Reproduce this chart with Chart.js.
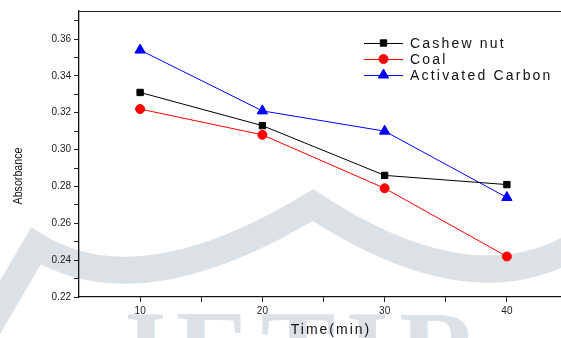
<!DOCTYPE html>
<html>
<head>
<meta charset="utf-8">
<script src="https://cdn.jsdelivr.net/npm/chart.js@4.4.0/dist/chart.umd.min.js"></script>
<style>
    html, body { margin: 0; padding: 0; background: #fff; overflow: hidden; }
    #wrap { width: 575px; height: 338px; position: relative; }
</style>
</head>
<body>
<div id="wrap"><canvas id="absChart"></canvas></div>
<script>
// данные
const times = [10, 20, 30, 40];
const cashewNut = [0.331, 0.313, 0.286, 0.281];
const coal = [0.322, 0.308, 0.279, 0.242];
const activatedCarbon = [0.354, 0.321, 0.310, 0.274];

const seriesNames = ['Cashew nut', 'Coal', 'Activated Carbon'];

const xMajorTicks = [10, 20, 30, 40];
const xMinorTicks = [15, 25, 35];
const yMajorTicks = [0.22, 0.24, 0.26, 0.28, 0.30, 0.32, 0.34, 0.36];
const yMinorTicks = [0.23, 0.25, 0.27, 0.29, 0.31, 0.33, 0.35, 0.37];

const xTitle = 'Time(min)';
const yTitle = 'Absorbance';

function toPoints(values) {
    return values.map((v, i) => ({ x: times[i], y: v }));
}

// бледный водяной знак на фоне
const watermarkPlugin = {
    id: 'watermark',
    beforeDraw(chart) {
        const ctx = chart.ctx;
        ctx.save();
        ctx.strokeStyle = '#dbe1e4';
        ctx.lineWidth = 27;
        ctx.lineJoin = 'miter';
        ctx.beginPath();
        ctx.moveTo(-25, 350);
        ctx.lineTo(36, 246);
        ctx.quadraticCurveTo(140, 310, 313, 205);
        ctx.quadraticCurveTo(480, 315, 590, 236);
        ctx.stroke();

        ctx.fillStyle = '#dbe1e4';
        ctx.font = 'bold 112px "Liberation Serif"';
        ctx.letterSpacing = '10px';
        ctx.textAlign = 'center';
        ctx.textBaseline = 'alphabetic';
        ctx.fillText('JETIR', 300, 388);
        ctx.restore();
    }
};

// рамка сверху, подписи осей и легенда
const decorPlugin = {
    id: 'decor',
    afterDraw(chart) {
        const ctx = chart.ctx;
        const area = chart.chartArea;
        ctx.save();
        ctx.strokeStyle = '#222';
        ctx.lineWidth = 1;
        ctx.beginPath();
        ctx.moveTo(area.left, area.top + 0.5);
        ctx.lineTo(area.right + 10, area.top + 0.5);
        ctx.stroke();

        ctx.fillStyle = '#111';
        ctx.textAlign = 'center';
        ctx.textBaseline = 'middle';
        ctx.font = '14px "Liberation Sans"';
        ctx.letterSpacing = '2px';
        ctx.fillText(xTitle, 331, 330);

        ctx.save();
        ctx.translate(18, 176);
        ctx.rotate(-Math.PI / 2);
        ctx.font = '13px "Liberation Sans"';
        ctx.letterSpacing = '0px';
        ctx.scale(0.82, 1);
        ctx.fillText(yTitle, 0, 0);
        ctx.restore();

        // легенда
        const x0 = 364, x1 = 403, rowStart = 43, rowGap = 15.8;
        chart.data.datasets.forEach((ds, i) => {
            const y = Math.round(rowStart + i * rowGap);
            ctx.strokeStyle = ds.borderColor;
            ctx.lineWidth = 1;
            ctx.beginPath();
            ctx.moveTo(x0, y + 0.5);
            ctx.lineTo(x1, y + 0.5);
            ctx.stroke();
            ctx.fillStyle = ds.pointBackgroundColor;
            ctx.strokeStyle = ds.pointBorderColor;
            Chart.helpers.drawPoint(ctx, {
                pointStyle: ds.pointStyle,
                radius: ds.pointRadius,
                borderWidth: 1
            }, (x0 + x1) / 2, y);
            ctx.fillStyle = '#111';
            ctx.textAlign = 'left';
            ctx.font = '14px "Liberation Sans"';
            ctx.letterSpacing = '2.2px';
            ctx.fillText(ds.label, 410, y + 1);
        });
        ctx.restore();
    }
};

const ctx = document.getElementById('absChart').getContext('2d');

new Chart(ctx, {
    type: 'line',
    data: {
        datasets: [
            {
                label: seriesNames[0],
                data: toPoints(cashewNut),
                borderColor: '#000000',
                backgroundColor: '#000000',
                pointBackgroundColor: '#000000',
                pointBorderColor: '#000000',
                pointStyle: 'rect',
                pointRadius: 4.5,
                borderWidth: 1
            },
            {
                label: seriesNames[1],
                data: toPoints(coal),
                borderColor: '#ff0000',
                backgroundColor: '#ff0000',
                pointBackgroundColor: '#ff0000',
                pointBorderColor: '#ff0000',
                pointStyle: 'circle',
                pointRadius: 4.5,
                borderWidth: 1
            },
            {
                label: seriesNames[2],
                data: toPoints(activatedCarbon),
                borderColor: '#0000ff',
                backgroundColor: '#0000ff',
                pointBackgroundColor: '#0000ff',
                pointBorderColor: '#0000ff',
                pointStyle: 'triangle',
                pointRadius: 6,
                borderWidth: 1
            }
        ]
    },
    options: {
        responsive: true,
        maintainAspectRatio: false,
        animation: false,
        layout: { padding: { top: 11, right: 4, left: 0, bottom: 0 } },
        scales: {
            x: {
                type: 'linear',
                min: 5,
                max: 45,
                afterBuildTicks: scale => {
                    scale.ticks = xMajorTicks.concat(xMinorTicks).sort((a, b) => a - b).map(v => ({ value: v }));
                },
                afterFit: scale => { scale.height = 41; },
                ticks: {
                    autoSkip: false,
                    maxRotation: 0,
                    padding: 3,
                    color: '#222',
                    font: { family: 'Liberation Sans', size: 10 },
                    callback: v => xMajorTicks.includes(v) ? String(v) : ''
                },
                grid: { drawOnChartArea: false, drawTicks: true, tickLength: 5, color: '#222' },
                border: { display: true, color: '#111', width: 1.3 }
            },
            y: {
                type: 'linear',
                min: 0.22,
                max: 0.3752,
                afterBuildTicks: scale => {
                    scale.ticks = yMajorTicks.concat(yMinorTicks).sort((a, b) => a - b).map(v => ({ value: v }));
                },
                afterFit: scale => { scale.width = 79; },
                ticks: {
                    autoSkip: false,
                    padding: 3,
                    color: '#222',
                    font: { family: 'Liberation Sans', size: 10 },
                    callback: v => {
                        const major = yMajorTicks.find(t => Math.abs(t - v) < 1e-6);
                        return major !== undefined ? major.toFixed(2) : '';
                    }
                },
                grid: { drawOnChartArea: false, drawTicks: true, tickLength: 5, color: '#222' },
                border: { display: true, color: '#111', width: 1.3 }
            }
        },
        plugins: {
            legend: { display: false },
            tooltip: { enabled: false }
        }
    },
    plugins: [watermarkPlugin, decorPlugin]
});
</script>
</body>
</html>
